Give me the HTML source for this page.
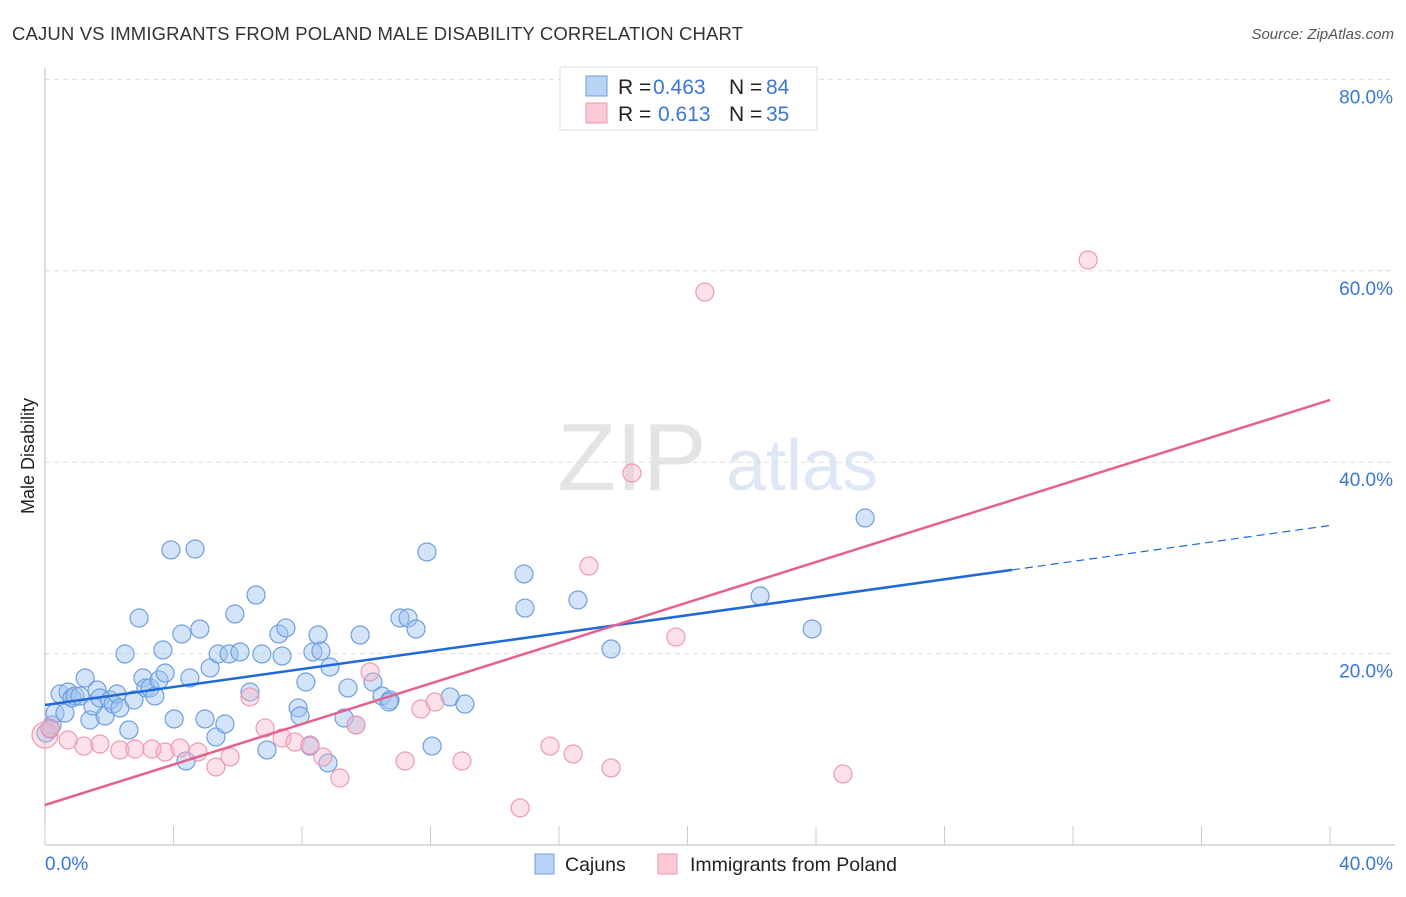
<!DOCTYPE html>
<html><head><meta charset="utf-8"><style>
body{margin:0;background:#fff;font-family:"Liberation Sans",sans-serif}
svg text{font-family:"Liberation Sans",sans-serif}
</style></head><body>
<svg width="1406" height="892" xmlns="http://www.w3.org/2000/svg">
<text x="12" y="40" font-size="18.5" fill="#333" textLength="731">CAJUN VS IMMIGRANTS FROM POLAND MALE DISABILITY CORRELATION CHART</text>
<text x="1394" y="39" font-size="15" fill="#555" font-style="italic" text-anchor="end">Source: ZipAtlas.com</text>
<g>
<text x="632" y="490" font-size="96" fill="#e4e4e4" font-family="Liberation Serif" text-anchor="middle">ZIP</text>
<text x="802" y="490" font-size="72" fill="#dde7f5" text-anchor="middle">atlas</text>
</g>
<g id="grid"></g>
<g id="axes"></g>
<g id="marks"></g>
<text transform="translate(34,456) rotate(-90)" font-size="18" fill="#222" text-anchor="middle">Male Disability</text>
<g>
<rect x="560" y="67" width="257" height="63" fill="#fff" stroke="#ddd"/>
<rect x="586" y="76" width="21" height="20" fill="#b8d3f5" stroke="#6e9fe0"/>
<rect x="586" y="103" width="21" height="20" fill="#fbc8d6" stroke="#ee9ab3"/>
<text y="94" font-size="21" fill="#222"><tspan x="618">R =</tspan><tspan x="653" fill="#3a76d6">0.463</tspan><tspan x="729">N =</tspan><tspan x="766" fill="#3a76d6">84</tspan></text>
<text y="121" font-size="21" fill="#222"><tspan x="618">R =</tspan><tspan x="658" fill="#3a76d6">0.613</tspan><tspan x="729">N =</tspan><tspan x="766" fill="#3a76d6">35</tspan></text>
</g>
<g>
<rect x="535" y="854" width="19" height="20" fill="#b8d3f5" stroke="#6e9fe0"/>
<text x="565" y="871" font-size="19.5" fill="#222">Cajuns</text>
<text x="690" y="871" font-size="19.5" fill="#222">Immigrants from Poland</text>
<rect x="658" y="854" width="19" height="20" fill="#fbc8d6" stroke="#ee9ab3"/>
</g>
</svg>
<script>
const xTicks=[0,4,8,12,16,20,24,28,32,36,40];
const yTicks=[20,40,60,80];
const yTickLabels=["20.0%","40.0%","60.0%","80.0%"];
const xEndLabels=["0.0%","40.0%"];
const cajunX=[0.22,0.31,0.47,0.62,0.72,0.84,0.93,1.09,1.25,1.40,1.49,1.62,1.71,1.87,2.02,2.12,2.24,2.33,2.49,2.61,2.77,2.93,3.05,3.14,3.27,3.42,3.55,3.67,3.74,3.92,4.02,4.26,4.39,4.51,4.67,4.82,4.98,5.14,5.32,5.39,5.60,5.73,5.91,6.07,6.38,6.57,6.75,6.91,7.28,7.38,7.50,7.88,7.94,8.12,8.25,8.34,8.50,8.59,8.81,8.87,9.31,9.43,9.68,9.81,10.21,10.49,10.74,10.71,11.05,11.30,11.55,11.89,12.05,12.61,13.07,14.91,14.94,16.59,17.62,22.26,23.88,25.53,0.03,0.16];
const cajunY=[12.54,13.79,15.78,13.79,15.99,15.36,15.57,15.57,17.45,13.06,14.52,16.20,15.36,13.48,15.15,14.73,15.78,14.32,19.96,12.02,15.15,23.72,17.45,16.41,16.41,15.57,17.24,20.38,17.97,30.83,13.17,22.05,8.78,17.45,30.93,22.57,13.17,18.50,11.29,19.96,12.64,19.96,24.14,20.17,15.99,26.12,19.96,9.93,22.05,19.75,22.68,14.32,13.48,17.03,10.34,20.17,21.94,20.27,8.57,18.60,13.27,16.41,12.54,21.94,17.03,15.57,15.15,14.94,23.72,23.72,22.57,30.62,10.34,15.47,14.73,28.32,24.76,25.60,20.48,26.02,22.57,34.17,11.70,12.12];
const polandX=[0,0.16,0.72,1.21,1.71,2.33,2.80,3.33,3.74,4.20,4.76,5.32,5.76,6.38,6.85,7.38,7.78,8.25,8.65,9.18,9.68,10.12,11.21,11.70,12.14,12.98,14.79,15.72,16.44,16.93,17.62,18.27,19.64,20.54,24.84,32.47];
const polandY=[11.49,12.23,10.97,10.34,10.55,9.93,10.03,10.03,9.72,10.14,9.72,8.15,9.20,15.47,12.23,11.18,10.76,10.45,9.20,7.00,12.54,18.08,8.78,14.21,14.94,8.78,3.87,10.34,9.51,29.15,8.05,38.87,21.73,57.78,7.42,61.13];
const cajunTrend=[14.63,0.469]; // intercept, slope
const polandTrend=[4.18,1.058];
const cajunSolidEnd=30.1;

const X0=45,X1=1330,Y0=845,Ypx=9.57;
const sx=v=>X0+(X1-X0)*v/40;
const sy=v=>Y0-v*Ypx;
const NS="http://www.w3.org/2000/svg";
function mk(tag,attrs,parent){const e=document.createElementNS(NS,tag);for(const k in attrs)e.setAttribute(k,attrs[k]);parent.appendChild(e);return e;}
const grid=document.getElementById('grid'),axes=document.getElementById('axes'),marks=document.getElementById('marks');
yTicks.forEach((t,i)=>{
  const l=mk('line',{x1:X0,x2:1395,y1:sy(t),y2:sy(t),stroke:'#ddd','stroke-dasharray':'5,4'},grid);
  
  
  const tx=mk('text',{x:1393,y:sy(t)+24,'font-size':19,fill:'#3a76d6','text-anchor':'end'},axes);
  tx.textContent=yTickLabels[i];
  
  
});
const ya=mk('line',{x1:X0,x2:X0,y1:68,y2:Y0,stroke:'#bbb'},axes);


const xa=mk('line',{x1:X0,x2:1395,y1:Y0,y2:Y0,stroke:'#bbb'},axes);


xTicks.forEach(t=>{
  const l=mk('line',{x1:sx(t),x2:sx(t),y1:826,y2:Y0,stroke:'#ccc'},axes);
  
  
});
[[0,'start',45],[40,'end',1393]].forEach((a,i)=>{
  const tx=mk('text',{x:a[2],y:870,'font-size':19,fill:'#3a76d6','text-anchor':a[1]},axes);
  tx.textContent=xEndLabels[i];
  
  
});
cajunX.forEach((x,i)=>{
  const c=mk('circle',{cx:sx(x),cy:sy(cajunY[i]),r:9,fill:'rgba(160,196,240,0.45)',stroke:'#6e9fe0','stroke-width':1.2},marks);
  
  
});
polandX.forEach((x,i)=>{
  const c=mk('circle',{cx:sx(x),cy:sy(polandY[i]),r:i==0?13:9,fill:'rgba(248,180,200,0.4)',stroke:'#ee9ab3','stroke-width':1.2},marks);
  
  
});
const ct=v=>cajunTrend[0]+cajunTrend[1]*v, pt=v=>polandTrend[0]+polandTrend[1]*v;
const l1=mk('line',{x1:sx(0),y1:sy(ct(0)),x2:sx(cajunSolidEnd),y2:sy(ct(cajunSolidEnd)),stroke:'#1f6ad6','stroke-width':2.5},marks);


const l2=mk('line',{x1:sx(cajunSolidEnd),y1:sy(ct(cajunSolidEnd)),x2:sx(40),y2:sy(ct(40)),stroke:'#1f6ad6','stroke-width':1.2,'stroke-dasharray':'8,5'},marks);


const l3=mk('line',{x1:sx(0),y1:sy(pt(0)),x2:sx(40),y2:sy(pt(40)),stroke:'#e5618c','stroke-width':2.5},marks);


</script>
</body></html>
